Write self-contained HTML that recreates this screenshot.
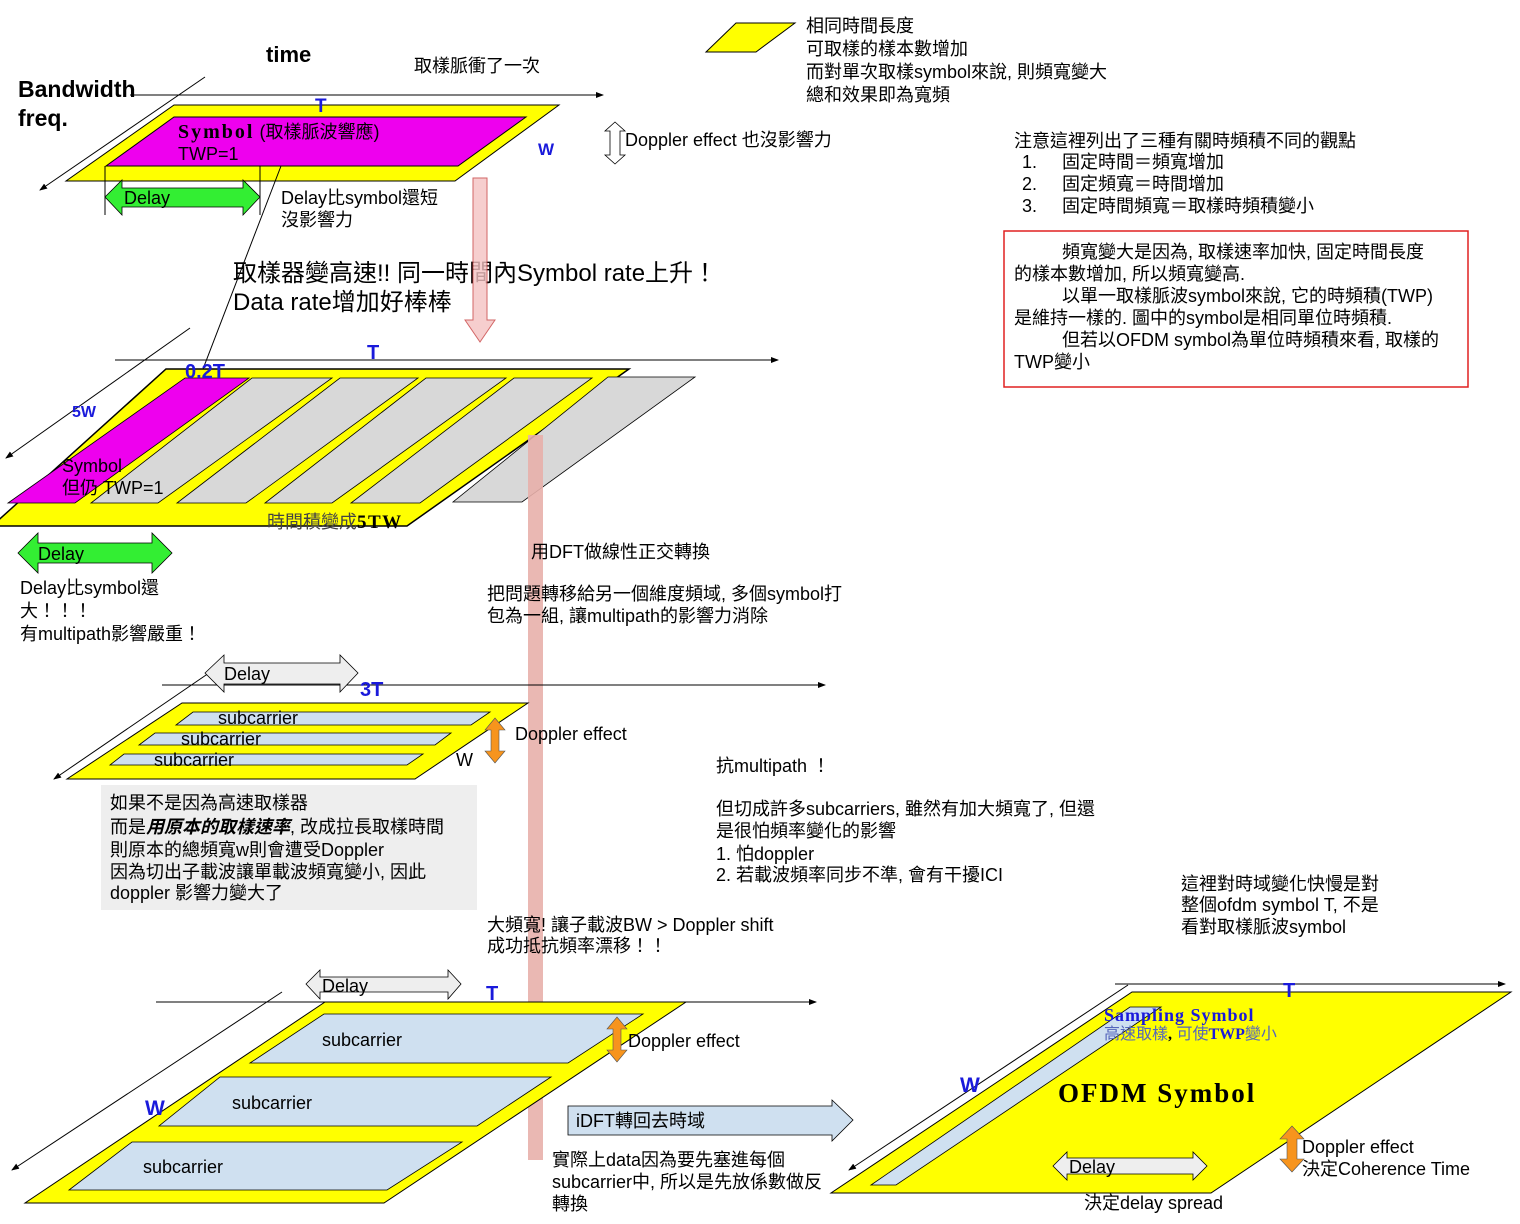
<!DOCTYPE html>
<html><head><meta charset="utf-8">
<style>
html,body{margin:0;padding:0;background:#fff;}
svg{display:block;}
text{font-family:"Liberation Sans","Noto Sans CJK TC",sans-serif;font-size:18px;fill:#000;}
.b{font-weight:bold;}
.blue{fill:#1a1adb;font-weight:bold;}
.serif{font-family:"Liberation Serif","Noto Serif CJK SC",serif;font-weight:bold;}
</style></head>
<body>
<svg width="1520" height="1224" viewBox="0 0 1520 1224" xmlns="http://www.w3.org/2000/svg">
<defs>
<marker id="ar" markerWidth="8" markerHeight="8" refX="7" refY="4" orient="auto" markerUnits="userSpaceOnUse">
<path d="M0,1 L8,4 L0,7 z" fill="#000"/></marker>
</defs>

<!-- ===== Section 1 ===== -->
<line x1="130" y1="95" x2="603" y2="95" stroke="#000" stroke-width="1" marker-end="url(#ar)"/>
<line x1="205" y1="77" x2="40" y2="190" stroke="#000" stroke-width="1" marker-end="url(#ar)"/>
<polygon points="174,105 559,105 455,181 66,181" fill="#ffff00" stroke="#000" stroke-width="1"/>
<polygon points="174,117 526,117 458,166 106,166" fill="#ee00ee" stroke="#000" stroke-width="1"/>
<line x1="105" y1="166" x2="105" y2="215" stroke="#000"/>
<line x1="260" y1="166" x2="260" y2="215" stroke="#000"/>
<polygon points="105,197 122,180 122,188 243,188 243,180 260,197 243,215 243,207 122,207 122,215" fill="#33ee33" stroke="#000" stroke-width="0.8"/>
<text x="124" y="204" fill="#000">Delay</text>
<line x1="281" y1="166" x2="193" y2="395" stroke="#000" stroke-width="1" marker-end="url(#ar)"/>
<text x="266" y="62" class="b" style="font-size:22px">time</text>
<text x="18" y="97" class="b" style="font-size:23px">Bandwidth</text>
<text x="18" y="126" class="b" style="font-size:23px">freq.</text>
<text x="414" y="72">取樣脈衝了一次</text>
<text x="315" y="112" class="blue" style="font-size:19px">T</text>
<text x="538" y="155" class="blue" style="font-size:17px">W</text>
<text x="178" y="138"><tspan class="serif" style="font-size:20px;letter-spacing:2px">Symbol</tspan> (取樣脈波響應)</text>
<text x="178" y="160">TWP=1</text>
<text x="281" y="204">Delay比symbol還短</text>
<text x="281" y="226">沒影響力</text>
<polygon points="615,122 625,131 620,131 620,155 625,155 615,164 605,155 610,155 610,131 605,131" fill="#fff" stroke="#000" stroke-width="0.8"/>
<text x="625" y="146">Doppler effect 也沒影響力</text>
<text x="233" y="281" style="font-size:24px">取樣器變高速!! 同一時間內Symbol rate上升！</text>
<text x="233" y="310" style="font-size:24px">Data rate增加好棒棒</text>
<polygon points="473,178 487,178 487,320 495,320 480,342 465,320 473,320" fill="#f4c2c2" stroke="#c84040" stroke-width="1" opacity="0.8"/>

<!-- legend -->
<polygon points="706,52 736,23 795,23 756,52" fill="#ffff00" stroke="#000"/>
<text x="806" y="32">相同時間長度</text>
<text x="806" y="55">可取樣的樣本數增加</text>
<text x="806" y="78">而對單次取樣symbol來說, 則頻寬變大</text>
<text x="806" y="101">總和效果即為寬頻</text>

<text x="1014" y="147">注意這裡列出了三種有關時頻積不同的觀點</text>
<text x="1022" y="168">1.</text><text x="1062" y="168">固定時間＝頻寬增加</text>
<text x="1022" y="190">2.</text><text x="1062" y="190">固定頻寬＝時間增加</text>
<text x="1022" y="212">3.</text><text x="1062" y="212">固定時間頻寬＝取樣時頻積變小</text>
<rect x="1004" y="231" width="464" height="156" fill="#fff" stroke="#e02020" stroke-width="1.5"/>
<text x="1062" y="258">頻寬變大是因為, 取樣速率加快, 固定時間長度</text>
<text x="1014" y="280">的樣本數增加, 所以頻寬變高.</text>
<text x="1062" y="302">以單一取樣脈波symbol來說, 它的時頻積(TWP)</text>
<text x="1014" y="324">是維持一樣的. 圖中的symbol是相同單位時頻積.</text>
<text x="1062" y="346">但若以OFDM symbol為單位時頻積來看, 取樣的</text>
<text x="1014" y="368">TWP變小</text>

<!-- ===== Section 2 ===== -->
<line x1="115" y1="360" x2="778" y2="360" stroke="#000" marker-end="url(#ar)"/>
<line x1="190" y1="328" x2="6" y2="458" stroke="#000" marker-end="url(#ar)"/>
<polygon points="166,369 629,369 407,526 -8,526" fill="#ffff00" stroke="#000" stroke-width="1.5"/>
<polygon points="185,378 249,378 75,503 8,503" fill="#ee00ee" stroke="#000" stroke-width="0.8"/>
<polygon points="252,378 332,378 158,503 91,503" fill="#d8d8d8" stroke="#000" stroke-width="0.8"/>
<polygon points="340,378 418,378 246,503 177,503" fill="#d8d8d8" stroke="#000" stroke-width="0.8"/>
<polygon points="426,378 506,378 332,503 265,503" fill="#d8d8d8" stroke="#000" stroke-width="0.8"/>
<polygon points="514,378 592,378 420,503 351,503" fill="#d8d8d8" stroke="#000" stroke-width="0.8"/>
<polygon points="608,377 695,377 522,502 453,502" fill="#d8d8d8" stroke="#000" stroke-width="0.8"/>
<text x="185" y="378" class="blue" style="font-size:20px">0.2T</text>
<text x="367" y="359" class="blue" style="font-size:20px">T</text>
<text x="72" y="417" class="blue" style="font-size:16px">5W</text>
<text x="62" y="472">Symbol</text>
<text x="62" y="494">但仍 TWP=1</text>
<text x="267" y="528" style="fill:#444">時間積變成<tspan class="serif" style="fill:#000;font-size:19px;letter-spacing:1.5px">5TW</tspan></text>
<rect x="528" y="435" width="15" height="725" fill="#e8b0ab" opacity="0.9"/>
<polygon points="18,553 38,533 38,543 152,543 152,533 172,553 152,573 152,563 38,563 38,573" fill="#33ee33" stroke="#000" stroke-width="0.8"/>
<text x="38" y="560">Delay</text>
<text x="20" y="594">Delay比symbol還</text>
<text x="20" y="617">大！！！</text>
<text x="20" y="640">有multipath影響嚴重！</text>
<text x="531" y="558">用DFT做線性正交轉換</text>
<text x="487" y="600">把問題轉移給另一個維度頻域, 多個symbol打</text>
<text x="487" y="622">包為一組, 讓multipath的影響力消除</text>

<!-- ===== Section 3 ===== -->
<line x1="162" y1="685" x2="825" y2="685" stroke="#000" marker-end="url(#ar)"/>
<line x1="209" y1="673" x2="54" y2="779" stroke="#000" marker-end="url(#ar)"/>
<polygon points="205,673 224,655 224,663 340,663 340,655 358,673 340,692 340,684 224,684 224,692" fill="#eeeeee" stroke="#000" stroke-width="0.8"/>
<text x="224" y="680">Delay</text>
<text x="360" y="696" class="blue" style="font-size:20px">3T</text>
<polygon points="182,703 528,703 415,779 67,779" fill="#ffff00" stroke="#000" stroke-width="1"/>
<polygon points="193,712 490,712 471,725 176,725" fill="#cfe0f0" stroke="#000" stroke-width="0.8"/>
<polygon points="155,733 451,733 435,745 139,745" fill="#cfe0f0" stroke="#000" stroke-width="0.8"/>
<polygon points="124,754 423,754 407,765 110,765" fill="#cfe0f0" stroke="#000" stroke-width="0.8"/>
<text x="218" y="724">subcarrier</text>
<text x="181" y="745">subcarrier</text>
<text x="154" y="766">subcarrier</text>
<polygon points="495,718 505,730 499,730 499,751 505,751 495,763 485,751 491,751 491,730 485,730" fill="#f7941d" stroke="#555" stroke-width="0.6"/>
<text x="515" y="740">Doppler effect</text>
<text x="456" y="766">W</text>
<rect x="101" y="785" width="376" height="125" fill="#eeeeee"/>
<text x="110" y="809">如果不是因為高速取樣器</text>
<text x="110" y="833">而是<tspan font-weight="bold" font-style="italic">用原本的取樣速率</tspan>, 改成拉長取樣時間</text>
<text x="110" y="856">則原本的總頻寬w則會遭受Doppler</text>
<text x="110" y="878">因為切出子載波讓單載波頻寬變小, 因此</text>
<text x="110" y="899">doppler 影響力變大了</text>
<text x="716" y="772">抗multipath ！</text>
<text x="716" y="815">但切成許多subcarriers, 雖然有加大頻寬了, 但還</text>
<text x="716" y="837">是很怕頻率變化的影響</text>
<text x="716" y="860">1. 怕doppler</text>
<text x="716" y="881">2. 若載波頻率同步不準, 會有干擾ICI</text>
<text x="487" y="931">大頻寬! 讓子載波BW &gt; Doppler shift</text>
<text x="487" y="952">成功抵抗頻率漂移！！</text>
<text x="1181" y="890">這裡對時域變化快慢是對</text>
<text x="1181" y="911">整個ofdm symbol T, 不是</text>
<text x="1181" y="933">看對取樣脈波symbol</text>

<!-- ===== Section 4 ===== -->
<line x1="156" y1="1002" x2="816" y2="1002" stroke="#000" marker-end="url(#ar)"/>
<line x1="282" y1="992" x2="12" y2="1170" stroke="#000" marker-end="url(#ar)"/>
<polygon points="306,984 320,970 320,977 448,977 448,970 461,984 448,999 448,992 320,992 320,999" fill="#eeeeee" stroke="#000" stroke-width="0.8"/>
<text x="322" y="992">Delay</text>
<polygon points="325,1002 686,1002 384,1203 25,1203" fill="#ffff00" stroke="#000" stroke-width="1"/>
<polygon points="324,1014 643,1014 568,1063 250,1063" fill="#cfe0f0" stroke="#000" stroke-width="0.8"/>
<polygon points="220,1077 551,1077 477,1126 159,1126" fill="#cfe0f0" stroke="#000" stroke-width="0.8"/>
<polygon points="132,1142 462,1142 387,1190 69,1190" fill="#cfe0f0" stroke="#000" stroke-width="0.8"/>
<text x="486" y="1000" class="blue" style="font-size:20px">T</text>
<text x="322" y="1046">subcarrier</text>
<text x="232" y="1109">subcarrier</text>
<text x="143" y="1173">subcarrier</text>
<text x="145" y="1115" class="blue" style="font-size:21px">W</text>
<polygon points="617,1017 627,1029 621,1029 621,1050 627,1050 617,1062 607,1050 613,1050 613,1029 607,1029" fill="#f7941d" stroke="#555" stroke-width="0.6"/>
<text x="628" y="1047">Doppler effect</text>
<polygon points="568,1106 832,1106 832,1100 853,1120 832,1141 832,1135 568,1135" fill="#cfe0f0" stroke="#000" stroke-width="0.8"/>
<text x="576" y="1127">iDFT轉回去時域</text>
<text x="552" y="1166">實際上data因為要先塞進每個</text>
<text x="552" y="1188">subcarrier中, 所以是先放係數做反</text>
<text x="552" y="1210">轉換</text>

<!-- ===== Section 5 ===== -->
<line x1="1115" y1="984" x2="1505" y2="984" stroke="#000" marker-end="url(#ar)"/>
<line x1="1128" y1="985" x2="849" y2="1170" stroke="#000" marker-end="url(#ar)"/>
<polygon points="1132,992 1511,992 1211,1193 831,1193" fill="#ffff00" stroke="#000" stroke-width="1"/>
<polygon points="1130,1007 1161,1007 896,1185 871,1185" fill="#cfe0f0" stroke="#000" stroke-width="0.8"/>
<text x="1283" y="997" class="blue" style="font-size:20px">T</text>
<text x="960" y="1092" class="blue" style="font-size:21px">W</text>
<text x="1104" y="1021" class="serif" style="fill:#1a1adb;font-size:18px;letter-spacing:1px">Sampling Symbol</text>
<text x="1104" y="1039" style="font-size:16px;fill:#5566bb">高速取樣<tspan class="serif" style="fill:#000">,</tspan> 可使<tspan class="serif" style="fill:#1a1adb">TWP</tspan>變小</text>
<text x="1058" y="1102" class="serif" style="font-size:27px;letter-spacing:2px">OFDM Symbol</text>
<polygon points="1053,1166 1067,1152 1067,1158 1193,1158 1193,1152 1207,1166 1193,1180 1193,1174 1067,1174 1067,1180" fill="#eeeeee" stroke="#000" stroke-width="0.8"/>
<text x="1069" y="1173">Delay</text>
<text x="1084" y="1209">決定delay spread</text>
<polygon points="1292,1126 1304,1139 1297,1139 1297,1159 1304,1159 1292,1172 1280,1159 1287,1159 1287,1139 1280,1139" fill="#f7941d" stroke="#555" stroke-width="0.6"/>
<text x="1302" y="1153">Doppler effect</text>
<text x="1302" y="1175">決定Coherence Time</text>
</svg>
</body></html>
